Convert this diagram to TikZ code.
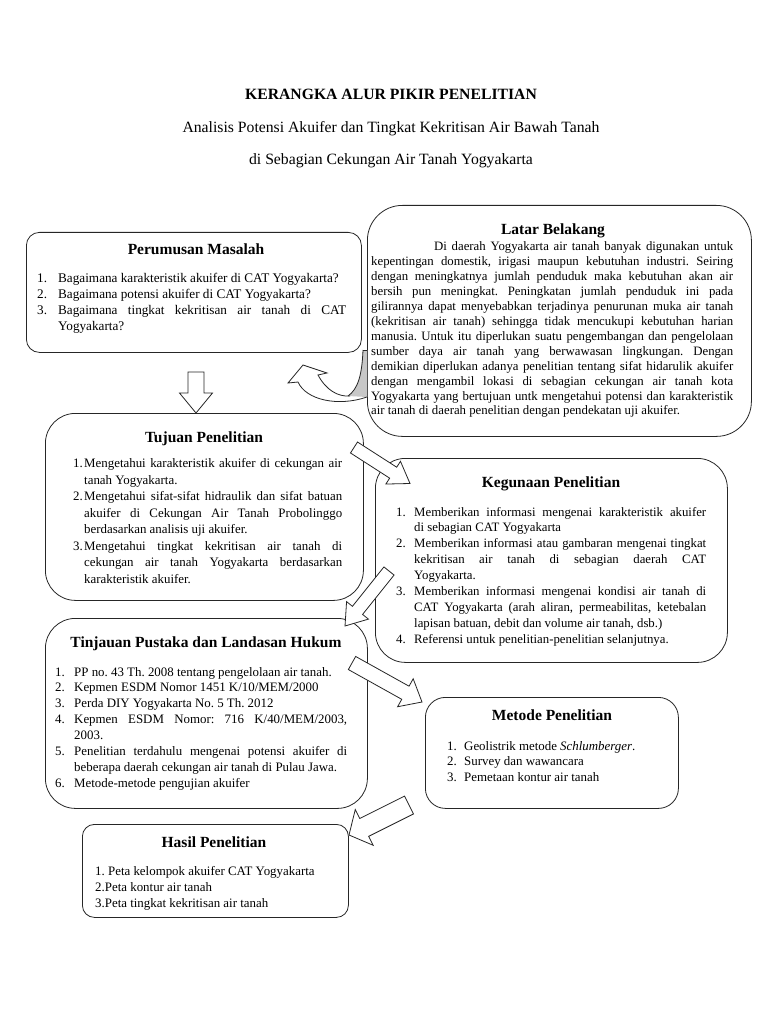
\documentclass[tikz,border=0pt]{standalone}
\usepackage{fontspec}
\setmainfont{Liberation Serif}
\usetikzlibrary{calc}
\frenchspacing
\newlength\indw
\newcommand\itm[2]{\par\noindent\hangindent=\indw\hangafter=1\makebox[\indw][l]{#1}#2\par}
\newcommand\blockarrow[5]{%
  \path let \p1=($(#2)-(#1)$) in \pgfextra{%
    \pgfmathsetmacro\barang{atan2(\y1,\x1)}%
    \pgfmathsetmacro\barlen{veclen(\x1,\y1)}%
    \global\let\barang\barang \global\let\barlen\barlen};
  \begin{scope}[shift={(#1)},rotate=\barang]
    \draw[arrowbox] (0,#3) -- ({\barlen-#5},#3) -- ({\barlen-#5},#4) -- (\barlen,0) -- ({\barlen-#5},-#4) -- ({\barlen-#5},-#3) -- (0,-#3) -- cycle;
  \end{scope}}
\hbadness=10000
\hyphenpenalty=10000
\exhyphenpenalty=10000
\tikzset{
  boxstyle/.style={draw=black!85, line width=0.8pt, fill=white, inner sep=0pt, anchor=north west},
  ttl/.style={font=\fontsize{15.5}{18}\selectfont\bfseries, inner sep=0pt, anchor=base},
  hdr/.style={font=\fontsize{15.7}{18}\selectfont, inner sep=0pt, anchor=base},
  body/.style={inner sep=0pt, anchor=base west},
  arrowbox/.style={draw=black!85, line width=0.8pt, fill=white, line join=miter},
}
\begin{document}
\begin{tikzpicture}[x=1pt,y=-1pt]
\useasboundingbox (0,0) rectangle (768,1024);
\fill[white] (0,0) rectangle (768,1024);

% headings
\node[hdr, font=\fontsize{15.7}{18}\selectfont\bfseries] (judul) at (391,100) {KERANGKA ALUR PIKIR PENELITIAN};
\node[hdr] (sub1) at (391,133) {Analisis Potensi Akuifer dan Tingkat Kekritisan Air Bawah Tanah};
\node[hdr] (sub2) at (391,165) {di Sebagian Cekungan Air Tanah Yogyakarta};

% boxes
\node[boxstyle, rounded corners=13pt, minimum width=335pt, minimum height=120pt] (perumusan) at (26,232) {};
\node[boxstyle, rounded corners=35pt, minimum width=384pt, minimum height=231pt] (latar) at (367,205) {};
\node[boxstyle, rounded corners=30pt, minimum width=318pt, minimum height=187pt] (tujuan) at (45,413) {};
\node[boxstyle, rounded corners=30pt, minimum width=352pt, minimum height=204pt] (kegunaan) at (375,458) {};
\node[boxstyle, rounded corners=30pt, minimum width=322pt, minimum height=190pt] (tinjauan) at (45,618) {};
\node[boxstyle, rounded corners=20pt, minimum width=253pt, minimum height=111pt] (metode) at (425,697) {};
\node[boxstyle, rounded corners=12pt, minimum width=266pt, minimum height=93pt] (hasil) at (82,824) {};

% titles
\node[ttl] (perumusanT) at (196,254) {Perumusan Masalah};
\node[ttl] (latarT) at (553,234) {Latar Belakang};
\node[ttl] (tujuanT) at (204,442) {Tujuan Penelitian};
\node[ttl] (kegunaanT) at (551,487) {Kegunaan Penelitian};
\node[ttl] (tinjauanT) at (206,647) {Tinjauan Pustaka dan Landasan Hukum};
\node[ttl] (metodeT) at (552,720) {Metode Penelitian};
\node[ttl] (hasilT) at (214,847) {Hasil Penelitian};

% texts
\node[body] (perumusanL) at (37,282) {\parbox[t]{309pt}{\fontsize{13.2}{16.2}\selectfont\setlength\indw{21pt}%
\itm{1.}{Bagaimana karakteristik akuifer di CAT Yogyakarta?}%
\itm{2.}{Bagaimana potensi akuifer di CAT Yogyakarta?}%
\itm{3.}{Bagaimana tingkat kekritisan air tanah di CAT\linebreak Yogyakarta?}}};

\node[body] (latarL) at (371,251) {\parbox[t]{362pt}{\fontsize{12.8}{14.9}\selectfont
\hspace*{63pt}Di daerah Yogyakarta air tanah banyak digunakan untuk\linebreak
kepentingan domestik, irigasi maupun kebutuhan industri. Seiring\linebreak
dengan meningkatnya jumlah penduduk maka kebutuhan akan air\linebreak
bersih pun meningkat. Peningkatan jumlah penduduk ini pada\linebreak
gilirannya dapat menyebabkan terjadinya penurunan muka air tanah\linebreak
(kekritisan air tanah) sehingga tidak mencukupi kebutuhan harian\linebreak
manusia. Untuk itu diperlukan suatu pengembangan dan pengelolaan\linebreak
sumber daya air tanah yang berwawasan lingkungan. Dengan\linebreak
demikian diperlukan adanya penelitian tentang sifat hidarulik akuifer\linebreak
dengan mengambil lokasi di sebagian cekungan air tanah kota\linebreak
Yogyakarta yang bertujuan untk mengetahui potensi dan karakteristik\linebreak
air tanah di daerah penelitian dengan pendekatan uji akuifer.}};

\node[body] (tujuanL) at (73,467.5) {\parbox[t]{269pt}{\fontsize{12.9}{16.5}\selectfont\setlength\indw{11pt}%
\itm{1.}{Mengetahui karakteristik akuifer di cekungan air\linebreak tanah Yogyakarta.}%
\itm{2.}{Mengetahui sifat-sifat hidraulik dan sifat batuan\linebreak akuifer di Cekungan Air Tanah Probolinggo\linebreak berdasarkan analisis uji akuifer.}%
\itm{3.}{Mengetahui tingkat kekritisan air tanah di\linebreak cekungan air tanah Yogyakarta berdasarkan\linebreak karakteristik akuifer.}}};

\node[body] (kegunaanL) at (396,516) {\parbox[t]{310pt}{\fontsize{12.8}{15.9}\selectfont\setlength\indw{18pt}%
\itm{1.}{Memberikan informasi mengenai karakteristik akuifer\linebreak di sebagian CAT Yogyakarta}%
\itm{2.}{Memberikan informasi atau gambaran mengenai tingkat\linebreak kekritisan air tanah di sebagian daerah CAT\linebreak Yogyakarta.}%
\itm{3.}{Memberikan informasi mengenai kondisi air tanah di\linebreak CAT Yogyakarta (arah aliran, permeabilitas, ketebalan\linebreak lapisan batuan, debit dan volume air tanah, dsb.)}%
\itm{4.}{Referensi untuk penelitian-penelitian selanjutnya.}}};

\node[body] (tinjauanL) at (55,676) {\parbox[t]{292pt}{\fontsize{12.9}{15.9}\selectfont\setlength\indw{19pt}%
\itm{1.}{PP no. 43 Th. 2008 tentang pengelolaan air tanah.}%
\itm{2.}{Kepmen ESDM Nomor 1451 K/10/MEM/2000}%
\itm{3.}{Perda DIY Yogyakarta No. 5 Th. 2012}%
\itm{4.}{Kepmen ESDM Nomor: 716 K/40/MEM/2003,\linebreak 2003.}%
\itm{5.}{Penelitian terdahulu mengenai potensi akuifer di\linebreak beberapa daerah cekungan air tanah di Pulau Jawa.}%
\itm{6.}{Metode-metode pengujian akuifer}}};

\node[body] (metodeL) at (447,750) {\parbox[t]{220pt}{\fontsize{12.9}{15.7}\selectfont\setlength\indw{17pt}%
\itm{1.}{Geolistrik metode \textit{Schlumberger}.}%
\itm{2.}{Survey dan wawancara}%
\itm{3.}{Pemetaan kontur air tanah}}};

\node[body] (hasilL) at (95,875) {\parbox[t]{250pt}{\fontsize{12.9}{16}\selectfont\raggedright
1. Peta kelompok akuifer CAT Yogyakarta\\
2.Peta kontur air tanah\\
3.Peta tingkat kekritisan air tanah}};

% arrow end points
\coordinate (a1t) at (196,372);  \coordinate (a1h) at (196,413);
\coordinate (a3t) at (354,447.5); \coordinate (a3h) at (410,483.5);
\coordinate (a4t) at (389,571);  \coordinate (a4h) at (345,626);
\coordinate (a5t) at (352,663);  \coordinate (a5h) at (422,702);
\coordinate (a6t) at (409,805);  \coordinate (a6h) at (349,835);

\blockarrow{a1t}{a1h}{8}{16.5}{20}
\blockarrow{a3t}{a3h}{6.5}{13.5}{20}
\blockarrow{a4t}{a4h}{6.5}{14}{20}
\blockarrow{a5t}{a5h}{7.5}{16}{19}
\blockarrow{a6t}{a6h}{10}{20}{17}

% curved arrow from Latar Belakang to Perumusan Masalah
\coordinate (c1) at (367,397);
\coordinate (c2) at (288,383);
\fill[white] (c1) .. controls (338,407) and (306,400) .. (298,382) -- (c2) -- (303,365) -- (327,373) -- (318,375)
  .. controls (326,390) and (338,397) .. (348,396) -- (363,350) -- (367,350) -- cycle;
\fill[black!22] (363,350) .. controls (362,375) and (358,389) .. (348,396) -- (c1) -- (367,350) -- cycle;
\draw[arrowbox, fill=none] (c1) .. controls (338,407) and (306,400) .. (298,382) -- (c2) -- (303,365) -- (327,373) -- (318,375)
  .. controls (326,390) and (338,397) .. (350,396);
\draw[draw=black!85, line width=0.8pt] (363,350) .. controls (362,375) and (358,389) .. (348,396);
\draw[draw=black!85, line width=0.8pt] (363,350) -- (367,350);
\end{tikzpicture}
\end{document}
